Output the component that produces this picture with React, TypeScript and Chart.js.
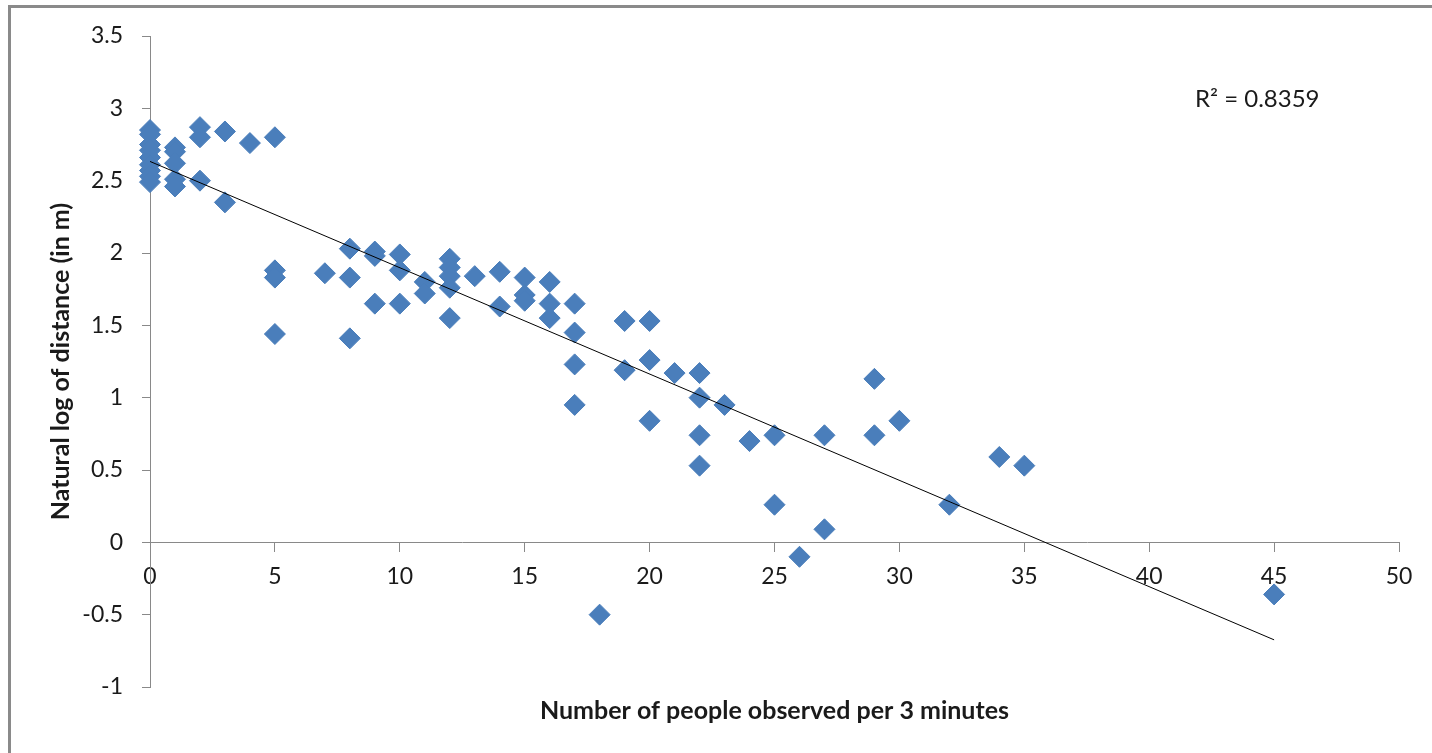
import React, { useEffect, useRef } from 'react';
import { Chart, registerables } from 'chart.js';

Chart.register(...registerables);

// Number of people observed per 3 minutes (x) and natural log of distance (y)
const PEOPLE = [
  0, 0, 0, 0, 0, 0, 0, 0, 0,
  1, 1, 1, 1, 1,
  2, 2, 2,
  3, 3,
  4,
  5, 5, 5, 5,
  7,
  8, 8, 8,
  9, 9, 9,
  10, 10, 10,
  11, 11,
  12, 12, 12, 12, 12,
  13,
  14, 14,
  15, 15, 15,
  16, 16, 16,
  17, 17, 17, 17,
  18,
  19, 19,
  20, 20, 20,
  21,
  22, 22, 22, 22,
  23,
  24,
  25, 25,
  26,
  27, 27,
  29, 29,
  30,
  32,
  34,
  35,
  45,
];
const LOG_DIST = [
  2.85, 2.82, 2.75, 2.71, 2.66, 2.61, 2.57, 2.53, 2.49,
  2.73, 2.70, 2.62, 2.51, 2.46,
  2.87, 2.80, 2.50,
  2.84, 2.35,
  2.76,
  2.80, 1.88, 1.83, 1.44,
  1.86,
  2.03, 1.83, 1.41,
  2.01, 1.98, 1.65,
  1.99, 1.88, 1.65,
  1.80, 1.72,
  1.96, 1.90, 1.84, 1.76, 1.55,
  1.84,
  1.87, 1.63,
  1.83, 1.71, 1.67,
  1.80, 1.65, 1.55,
  1.65, 1.45, 1.23, 0.95,
  -0.50,
  1.53, 1.19,
  1.53, 1.26, 0.84,
  1.17,
  1.17, 1.00, 0.74, 0.53,
  0.95,
  0.70,
  0.74, 0.26,
  -0.10,
  0.74, 0.09,
  1.13, 0.74,
  0.84,
  0.26,
  0.59,
  0.53,
  -0.36,
];

// Linear trend line end points
const TREND_X = [0, 45];
const TREND_Y = [2.633, -0.674];

const X_TITLE = 'Number of people observed per 3 minutes';
const Y_TITLE = 'Natural log of distance (in m)';
const R2_LABEL = 'R\u00B2 = 0.8359';

const X_MIN = 0, X_MAX = 50, X_STEP = 5;
const Y_MIN = -1, Y_MAX = 3.5, Y_STEP = 0.5;

const FONT = 'Lato, "Open Sans", sans-serif';
const TEXT = '#1a1a1a';
const AXIS = '#898989';
const MARKER = '#4A7EBB';

export default function App() {
  const ref = useRef<HTMLCanvasElement>(null);

  useEffect(() => {
    document.body.style.margin = '0';
    document.body.style.overflow = 'hidden';
    const canvas = ref.current;
    if (!canvas) return;

    const decor = {
      id: 'decor',
      beforeDraw(chart: any) {
        const ctx = chart.ctx;
        ctx.save();
        ctx.fillStyle = '#ffffff';
        ctx.fillRect(0, 0, chart.width, chart.height);
        ctx.fillStyle = '#8a8a8a';
        ctx.fillRect(8, 5, 3, chart.height);
        ctx.fillRect(8, 5, chart.width, 3);
        ctx.restore();
      },
      afterDraw(chart: any) {
        const ctx = chart.ctx;
        const area = chart.chartArea;
        ctx.save();
        ctx.fillStyle = TEXT;
        ctx.font = `bold 25px ${FONT}`;
        ctx.textAlign = 'center';
        ctx.textBaseline = 'middle';
        ctx.translate(61, (area.top + area.bottom) / 2);
        ctx.rotate(-Math.PI / 2);
        ctx.fillText(Y_TITLE, 0, 0);
        ctx.restore();

        ctx.save();
        ctx.fillStyle = TEXT;
        ctx.font = `24px ${FONT}`;
        ctx.textAlign = 'left';
        ctx.textBaseline = 'alphabetic';
        ctx.fillText(R2_LABEL, 1195, 107);
        ctx.restore();
      },
    };

    const points = PEOPLE.map((x, i) => ({ x, y: LOG_DIST[i] }));
    const trend = TREND_X.map((x, i) => ({ x, y: TREND_Y[i] }));

    const chart = new Chart(canvas, {
      type: 'scatter',
      data: {
        datasets: [
          {
            type: 'line',
            data: trend,
            borderColor: '#000000',
            borderWidth: 1,
            pointRadius: 0,
            fill: false,
            order: 0,
            xAxisID: 'x',
            yAxisID: 'y',
          } as any,
          {
            type: 'scatter',
            data: points,
            pointStyle: 'rectRot',
            pointRadius: 10.5,
            backgroundColor: MARKER,
            borderColor: MARKER,
            borderWidth: 1,
            clip: false,
            order: 1,
            xAxisID: 'x',
            yAxisID: 'y',
          } as any,
        ],
      },
      options: {
        animation: false,
        responsive: false,
        devicePixelRatio: 1,
        layout: { padding: { left: 0, top: 36, right: 33, bottom: 0 } },
        plugins: {
          legend: { display: false },
          tooltip: { enabled: false },
        },
        scales: {
          x: {
            type: 'linear',
            position: { y: 0 } as any,
            min: X_MIN,
            max: X_MAX,
            ticks: {
              stepSize: X_STEP,
              color: TEXT,
              font: { family: FONT, size: 23 },
              padding: 11,
            },
            grid: {
              drawOnChartArea: false,
              drawTicks: true,
              tickLength: 9,
              color: AXIS,
            },
            border: { color: AXIS, width: 1 },
            title: { display: false },
          },
          x2: {
            type: 'linear',
            position: 'bottom',
            min: X_MIN,
            max: X_MAX,
            ticks: { display: false },
            grid: { display: false },
            border: { display: false },
            title: {
              display: true,
              text: X_TITLE,
              color: TEXT,
              font: { family: FONT, size: 25, weight: 'bold' },
              padding: { top: 0, bottom: 27 },
            },
            afterFit(s: any) {
              s.height = 66;
            },
          },
          y: {
            type: 'linear',
            position: 'left',
            min: Y_MIN,
            max: Y_MAX,
            ticks: {
              stepSize: Y_STEP,
              color: TEXT,
              font: { family: FONT, size: 23 },
              padding: 19,
              callback: (v: any) => String(Number(v)),
            },
            grid: {
              drawOnChartArea: false,
              drawTicks: true,
              tickLength: 8,
              color: AXIS,
            },
            border: { color: AXIS, width: 1 },
            afterFit(s: any) {
              s.width = 150;
            },
          },
        },
      } as any,
      plugins: [decor],
    });

    return () => chart.destroy();
  }, []);

  return (
    <div style={{ width: 1432, height: 753, position: 'relative' }}>
      <canvas ref={ref} width={1432} height={753} style={{ display: 'block' }} />
    </div>
  );
}
